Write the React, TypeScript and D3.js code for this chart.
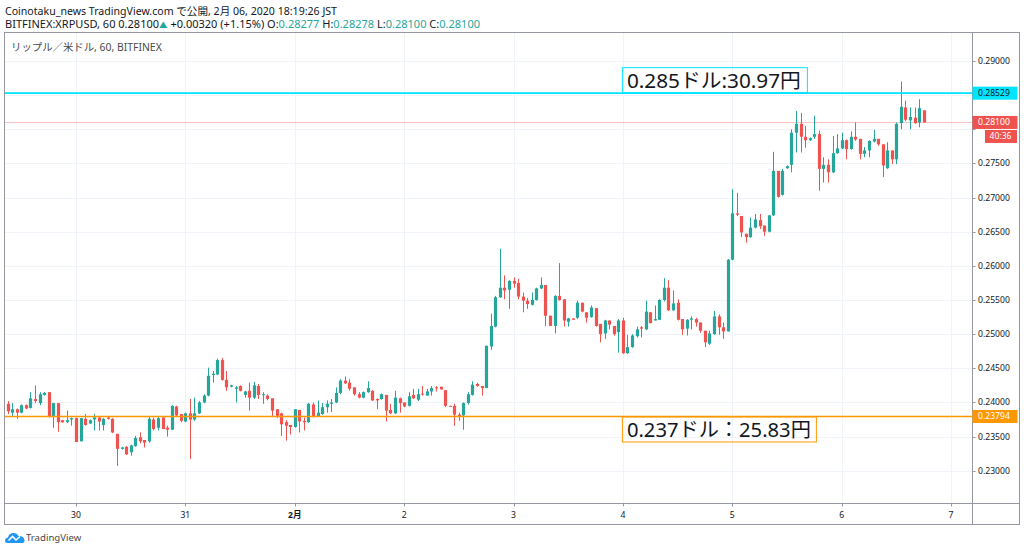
import React from 'react';
import * as d3 from 'd3';

// hourly candles, first one at 2020-01-29 09:00 JST (times kept as UTC numbers)
const firstCandle = Date.UTC(2020, 0, 29, 9);

const opens = [
  0.2398, 0.2385, 0.2390, 0.2385, 0.2396, 0.2392, 0.2405, 0.2399, 0.2411, 0.2415,
  0.2380, 0.2399, 0.2374, 0.2371, 0.2375, 0.2377, 0.2343, 0.2376, 0.2369, 0.2375,
  0.2378, 0.2367, 0.2378, 0.2376, 0.2354, 0.2332, 0.2335, 0.2327, 0.2336, 0.2349,
  0.2345, 0.2343, 0.2375, 0.2363, 0.2378, 0.2363, 0.2360, 0.2394, 0.2383, 0.2372,
  0.2384, 0.2375, 0.2384, 0.2400, 0.2410, 0.2440, 0.2441, 0.2462, 0.2433, 0.2423,
  0.2420, 0.2424, 0.2411, 0.2417, 0.2407, 0.2424, 0.2411, 0.2410, 0.2406, 0.2390,
  0.2384, 0.2371, 0.2367, 0.2364, 0.2389, 0.2373, 0.2371, 0.2397, 0.2380, 0.2383,
  0.2393, 0.2398, 0.2400, 0.2414, 0.2432, 0.2429, 0.2422, 0.2412, 0.2407, 0.2415,
  0.2417, 0.2405, 0.2405, 0.2411, 0.2389, 0.2384, 0.2406, 0.2400, 0.2395, 0.2411,
  0.2404, 0.2413, 0.2410, 0.2416, 0.2422, 0.2423, 0.2418, 0.2395, 0.2395, 0.2382,
  0.2381, 0.2399, 0.2411, 0.2427, 0.2424, 0.2421, 0.2482, 0.2511, 0.2554, 0.2568,
  0.2565, 0.2578, 0.2575, 0.2555, 0.2549, 0.2543, 0.2550, 0.2567, 0.2572, 0.2527,
  0.2512, 0.2556, 0.2551, 0.2518, 0.2523, 0.2524, 0.2546, 0.2532, 0.2525, 0.2538,
  0.2515, 0.2501, 0.2520, 0.2512, 0.2503, 0.2520, 0.2472, 0.2481, 0.2497, 0.2510,
  0.2507, 0.2532, 0.2520, 0.2521, 0.2550, 0.2568, 0.2535, 0.2546, 0.2522, 0.2508,
  0.2521, 0.2522, 0.2517, 0.2505, 0.2486, 0.2500, 0.2526, 0.2510, 0.2504, 0.2609,
  0.2677, 0.2673, 0.2647, 0.2642, 0.2656, 0.2667, 0.2659, 0.2650, 0.2674, 0.2739,
  0.2704, 0.2743, 0.2748, 0.2795, 0.2808, 0.2789, 0.2784, 0.2789, 0.2793, 0.2742,
  0.2748, 0.2737, 0.2765, 0.2772, 0.2784, 0.2771, 0.2789, 0.2786, 0.2764, 0.2769,
  0.2782, 0.2786, 0.2778, 0.2743, 0.2769, 0.2756, 0.2809, 0.2832, 0.2813, 0.2817,
  0.2810, 0.28277,
];

const highs = [
  0.2402, 0.2399, 0.2391, 0.2397, 0.2397, 0.2415, 0.2425, 0.2415, 0.2415, 0.2415,
  0.2399, 0.2399, 0.2374, 0.2388, 0.2378, 0.2378, 0.2377, 0.2383, 0.2375, 0.2383,
  0.2378, 0.2377, 0.2380, 0.2377, 0.2354, 0.2335, 0.2336, 0.2338, 0.2351, 0.2356,
  0.2345, 0.2380, 0.2378, 0.2380, 0.2378, 0.2366, 0.2396, 0.2395, 0.2383, 0.2385,
  0.2405, 0.2407, 0.2402, 0.2412, 0.2451, 0.2446, 0.2464, 0.2465, 0.2446, 0.2426,
  0.2424, 0.2425, 0.2417, 0.2429, 0.2430, 0.2427, 0.2415, 0.2412, 0.2406, 0.2390,
  0.2385, 0.2374, 0.2367, 0.2390, 0.2389, 0.2378, 0.2399, 0.2400, 0.2403, 0.2399,
  0.2403, 0.2405, 0.2422, 0.2434, 0.2438, 0.2434, 0.2422, 0.2415, 0.2416, 0.2431,
  0.2418, 0.2406, 0.2413, 0.2411, 0.2398, 0.2417, 0.2407, 0.2400, 0.2415, 0.2420,
  0.2420, 0.2424, 0.2420, 0.2424, 0.2424, 0.2423, 0.2418, 0.2395, 0.2398, 0.2385,
  0.2400, 0.2415, 0.2431, 0.2429, 0.2424, 0.2483, 0.2530, 0.2556, 0.2625, 0.2586,
  0.2579, 0.2583, 0.2581, 0.2561, 0.2553, 0.2561, 0.2568, 0.2583, 0.2572, 0.2527,
  0.2557, 0.2604, 0.2551, 0.2524, 0.2523, 0.2549, 0.2546, 0.2532, 0.2542, 0.2538,
  0.2515, 0.2521, 0.2520, 0.2512, 0.2522, 0.2524, 0.2499, 0.2500, 0.2511, 0.2512,
  0.2549, 0.2532, 0.2542, 0.2551, 0.2582, 0.2579, 0.2564, 0.2551, 0.2522, 0.2522,
  0.2526, 0.2524, 0.2517, 0.2505, 0.2505, 0.2534, 0.2529, 0.2517, 0.2610, 0.2712,
  0.2707, 0.2673, 0.2647, 0.2671, 0.2676, 0.2676, 0.2659, 0.2674, 0.2767, 0.2739,
  0.2742, 0.2747, 0.2800, 0.2827, 0.2824, 0.2805, 0.2788, 0.2820, 0.2798, 0.2759,
  0.2756, 0.2790, 0.2793, 0.2795, 0.2785, 0.2797, 0.2810, 0.2786, 0.2774, 0.2784,
  0.2799, 0.2786, 0.2778, 0.2781, 0.2769, 0.2810, 0.2870, 0.2842, 0.2832, 0.2832,
  0.2844, 0.28278,
];

const lows = [
  0.2383, 0.2380, 0.2376, 0.2384, 0.2390, 0.2391, 0.2399, 0.2396, 0.2410, 0.2378,
  0.2363, 0.2357, 0.2370, 0.2370, 0.2366, 0.2342, 0.2343, 0.2366, 0.2369, 0.2359,
  0.2359, 0.2359, 0.2375, 0.2355, 0.2307, 0.2331, 0.2323, 0.2322, 0.2335, 0.2340,
  0.2334, 0.2341, 0.2359, 0.2359, 0.2361, 0.2350, 0.2360, 0.2379, 0.2371, 0.2371,
  0.2317, 0.2373, 0.2383, 0.2399, 0.2409, 0.2429, 0.2440, 0.2432, 0.2417, 0.2422,
  0.2400, 0.2416, 0.2407, 0.2388, 0.2405, 0.2405, 0.2398, 0.2403, 0.2380, 0.2377,
  0.2351, 0.2344, 0.2353, 0.2363, 0.2356, 0.2359, 0.2370, 0.2378, 0.2380, 0.2382,
  0.2385, 0.2386, 0.2399, 0.2412, 0.2427, 0.2417, 0.2410, 0.2406, 0.2406, 0.2414,
  0.2402, 0.2390, 0.2404, 0.2372, 0.2383, 0.2383, 0.2385, 0.2393, 0.2394, 0.2405,
  0.2402, 0.2410, 0.2410, 0.2410, 0.2416, 0.2419, 0.2393, 0.2394, 0.2366, 0.2373,
  0.2360, 0.2397, 0.2410, 0.2423, 0.2410, 0.2421, 0.2477, 0.2510, 0.2553, 0.2551,
  0.2537, 0.2568, 0.2551, 0.2532, 0.2537, 0.2542, 0.2549, 0.2566, 0.2512, 0.2512,
  0.2501, 0.2549, 0.2511, 0.2511, 0.2521, 0.2522, 0.2532, 0.2517, 0.2524, 0.2511,
  0.2488, 0.2493, 0.2507, 0.2498, 0.2473, 0.2471, 0.2471, 0.2480, 0.2495, 0.2495,
  0.2506, 0.2516, 0.2520, 0.2521, 0.2548, 0.2534, 0.2534, 0.2520, 0.2499, 0.2498,
  0.2507, 0.2511, 0.2502, 0.2481, 0.2484, 0.2499, 0.2499, 0.2493, 0.2504, 0.2608,
  0.2673, 0.2642, 0.2634, 0.2641, 0.2655, 0.2654, 0.2644, 0.2649, 0.2673, 0.2700,
  0.2703, 0.2742, 0.2737, 0.2766, 0.2766, 0.2773, 0.2783, 0.2786, 0.2710, 0.2722,
  0.2722, 0.2736, 0.2764, 0.2771, 0.2756, 0.2770, 0.2783, 0.2756, 0.2759, 0.2759,
  0.2781, 0.2776, 0.2730, 0.2742, 0.2749, 0.2749, 0.2800, 0.2812, 0.2800, 0.2808,
  0.2803, 0.2810,
];

const closes = [
  0.2387, 0.2390, 0.2385, 0.2396, 0.2391, 0.2406, 0.2402, 0.2412, 0.2414, 0.2380,
  0.2399, 0.2371, 0.2371, 0.2374, 0.2377, 0.2342, 0.2377, 0.2367, 0.2374, 0.2378,
  0.2372, 0.2376, 0.2376, 0.2356, 0.2332, 0.2334, 0.2324, 0.2337, 0.2348, 0.2343,
  0.2341, 0.2376, 0.2361, 0.2377, 0.2361, 0.2360, 0.2395, 0.2381, 0.2373, 0.2384,
  0.2375, 0.2384, 0.2400, 0.2410, 0.2439, 0.2442, 0.2462, 0.2433, 0.2422, 0.2425,
  0.2422, 0.2417, 0.2416, 0.2407, 0.2425, 0.2411, 0.2412, 0.2405, 0.2388, 0.2380,
  0.2368, 0.2366, 0.2364, 0.2390, 0.2372, 0.2371, 0.2398, 0.2380, 0.2385, 0.2393,
  0.2398, 0.2400, 0.2414, 0.2432, 0.2428, 0.2420, 0.2412, 0.2407, 0.2415, 0.2421,
  0.2403, 0.2403, 0.2412, 0.2388, 0.2384, 0.2407, 0.2399, 0.2394, 0.2409, 0.2406,
  0.2412, 0.2412, 0.2416, 0.2421, 0.2421, 0.2419, 0.2395, 0.2394, 0.2382, 0.2380,
  0.2399, 0.2412, 0.2426, 0.2424, 0.2421, 0.2483, 0.2512, 0.2554, 0.2568, 0.2564,
  0.2578, 0.2574, 0.2555, 0.2549, 0.2544, 0.2550, 0.2567, 0.2572, 0.2527, 0.2512,
  0.2556, 0.2550, 0.2520, 0.2523, 0.2521, 0.2546, 0.2533, 0.2524, 0.2539, 0.2512,
  0.2500, 0.2520, 0.2514, 0.2500, 0.2520, 0.2472, 0.2481, 0.2498, 0.2507, 0.2508,
  0.2533, 0.2516, 0.2522, 0.2550, 0.2568, 0.2535, 0.2545, 0.2521, 0.2507, 0.2521,
  0.2523, 0.2517, 0.2505, 0.2488, 0.2501, 0.2526, 0.2510, 0.2504, 0.2609, 0.2677,
  0.2675, 0.2649, 0.2642, 0.2656, 0.2668, 0.2658, 0.2650, 0.2674, 0.2739, 0.2701,
  0.2739, 0.2746, 0.2795, 0.2808, 0.2789, 0.2784, 0.2787, 0.2793, 0.2742, 0.2748,
  0.2737, 0.2765, 0.2772, 0.2784, 0.2771, 0.2789, 0.2785, 0.2764, 0.2769, 0.2783,
  0.2786, 0.2778, 0.2747, 0.2769, 0.2756, 0.2808, 0.2833, 0.2814, 0.2818, 0.2809,
  0.2831, 0.2810,
];

const dayTicks = [
  Date.UTC(2020, 0, 30), Date.UTC(2020, 0, 31), Date.UTC(2020, 1, 1), Date.UTC(2020, 1, 2),
  Date.UTC(2020, 1, 3), Date.UTC(2020, 1, 4), Date.UTC(2020, 1, 5), Date.UTC(2020, 1, 6),
  Date.UTC(2020, 1, 7),
];
const dayLabels = ['30', '31', '2月', '2', '3', '4', '5', '6', '7'];

const priceTicks = [
  0.23, 0.235, 0.24, 0.245, 0.25, 0.255, 0.26, 0.265, 0.27, 0.275, 0.28, 0.285, 0.29,
];

const lastPrice = 0.281;
const countdown = '40:36';
const upperLevel = 0.28529;
const lowerLevel = 0.23794;
const upperNote = '0.285ドル:30.97円';
const lowerNote = '0.237ドル：25.83円';
const noteTime = Date.UTC(2020, 1, 4);

const UP = '#26a69a';
const DOWN = '#ef5350';
const CYAN = '#00e5ff';
const ORANGE = '#ff9800';
const FONT = '"Noto Sans", "Noto Sans CJK JP", sans-serif';

const App: React.FC = () => {
  const left = 4.5;
  const top = 32.5;
  const axisX = 972.5;
  const axisY = 503.5;
  const right = 1019.5;
  const bottom = 524.5;

  const x = d3.scaleUtc().domain([dayTicks[0], dayTicks[8]]).range([76, 951]);
  const y = d3.scaleLinear().domain([0.23, 0.29]).range([470.7, 61]);
  const fmt = d3.format('.5f');
  const hour = 3600 * 1000;
  const bodyW = 3.2;

  const candles = closes.map((c, i) => ({
    t: firstCandle + i * hour,
    o: opens[i],
    h: highs[i],
    l: lows[i],
    c,
  }));

  // the tick label hidden under the last price badge is not drawn
  const hidden = (p: number) => Math.abs(y(p) - y(lastPrice)) < 20;

  return (
    <div style={{ position: 'fixed', left: 0, top: 0 }}>
      <svg width={1024} height={552} style={{ display: 'block', background: '#fff' }} fontFamily={FONT}>
        <defs>
          <clipPath id="plot">
            <rect x={left} y={top} width={axisX - left} height={axisY - top} />
          </clipPath>
        </defs>

        {/* header */}
        <text x={5} y={15} fontSize={10.4} fill="#131722" textLength={332} lengthAdjust="spacingAndGlyphs">
          Coinotaku_news TradingView.com で公開, 2月 06, 2020 18:19:26 JST
        </text>
        <text x={5} y={27.5} fontSize={10.4} fill="#131722" textLength={475} lengthAdjust="spacingAndGlyphs">
          <tspan>BITFINEX:XRPUSD, 60 0.28100</tspan>
          <tspan fill={UP} fontSize={8}>▲</tspan>
          <tspan> +0.00320 (+1.15%) O:</tspan>
          <tspan fill={UP}>0.28277</tspan>
          <tspan> H:</tspan>
          <tspan fill={UP}>0.28278</tspan>
          <tspan> L:</tspan>
          <tspan fill={UP}>0.28100</tspan>
          <tspan> C:</tspan>
          <tspan fill={UP}>0.28100</tspan>
        </text>

        {/* grid */}
        <g stroke="#f0f3fa" strokeWidth={1}>
          {dayTicks.map((d, i) => (
            <line key={'v' + i} x1={Math.round(x(d)) + 0.5} x2={Math.round(x(d)) + 0.5} y1={top} y2={axisY} />
          ))}
          {priceTicks.map((p, i) => (
            <line key={'h' + i} x1={left} x2={axisX} y1={Math.round(y(p)) + 0.5} y2={Math.round(y(p)) + 0.5} />
          ))}
        </g>

        <text x={11} y={51} fontSize={10.4} fill="#4a4a4a">
          リップル／米ドル, 60, BITFINEX
        </text>

        <g clipPath="url(#plot)">
          {/* last price line */}
          <line x1={left} x2={axisX} y1={y(lastPrice)} y2={y(lastPrice)} stroke={DOWN} strokeOpacity={0.35} strokeWidth={1} />

          {candles.map((d, i) => {
            const cx = Math.round(x(d.t)) + 0.5;
            const color = d.c >= d.o ? UP : DOWN;
            const y0 = y(Math.max(d.o, d.c));
            const y1 = y(Math.min(d.o, d.c));
            return (
              <g key={i}>
                <line x1={cx} x2={cx} y1={y(d.h)} y2={y(d.l)} stroke={color} strokeWidth={1} />
                <rect x={cx - bodyW / 2} y={y0} width={bodyW} height={Math.max(1, y1 - y0)} fill={color} />
              </g>
            );
          })}

          {/* horizontal levels */}
          <line x1={left} x2={axisX} y1={y(upperLevel)} y2={y(upperLevel)} stroke={CYAN} strokeWidth={1.6} />
          <line x1={left} x2={axisX} y1={y(lowerLevel)} y2={y(lowerLevel)} stroke={ORANGE} strokeWidth={1.6} />

          {/* notes */}
          <rect x={x(noteTime) - 0.5} y={y(upperLevel) - 25.5} width={185} height={25} fill="none" stroke={CYAN} strokeWidth={1} />
          <text x={x(noteTime) + 4} y={y(upperLevel) - 5.5} fontSize={20} fill="#131722" textLength={174} lengthAdjust="spacingAndGlyphs">{upperNote}</text>
          <rect x={x(noteTime) - 0.5} y={y(lowerLevel) + 0.5} width={194} height={25} fill="none" stroke={ORANGE} strokeWidth={1} />
          <text x={x(noteTime) + 4} y={y(lowerLevel) + 20.5} fontSize={20} fill="#131722" textLength={184} lengthAdjust="spacingAndGlyphs">{lowerNote}</text>
        </g>

        {/* frame */}
        <rect x={left} y={top} width={right - left} height={bottom - top} fill="none" stroke="#9598a1" strokeWidth={1} />
        <line x1={axisX} x2={axisX} y1={top} y2={bottom} stroke="#9598a1" />
        <line x1={left} x2={right} y1={axisY} y2={axisY} stroke="#9598a1" />

        {/* price axis */}
        <g fontSize={8.6} fill="#131722">
          {priceTicks.map((p, i) => (
            <g key={i}>
              <line x1={axisX} x2={axisX + 3} y1={Math.round(y(p)) + 0.5} y2={Math.round(y(p)) + 0.5} stroke="#9598a1" />
              {!hidden(p) && <text x={978} y={y(p) + 3}>{fmt(p)}</text>}
            </g>
          ))}
        </g>

        {/* axis labels for levels */}
        <rect x={axisX} y={y(upperLevel) - 6.5} width={45} height={13} fill={CYAN} />
        <text x={978} y={y(upperLevel) + 3} fontSize={8.6} fill="#131722">{fmt(upperLevel)}</text>
        <rect x={axisX} y={y(lowerLevel) - 6.5} width={45} height={13} fill={ORANGE} />
        <text x={978} y={y(lowerLevel) + 3} fontSize={8.6} fill="#fff">{fmt(lowerLevel)}</text>
        <rect x={axisX} y={y(lastPrice) - 6.5} width={45} height={13} fill={DOWN} />
        <text x={978} y={y(lastPrice) + 3} fontSize={8.6} fill="#fff">{fmt(lastPrice)}</text>
        <rect x={985} y={y(lastPrice) + 7.5} width={32} height={13} fill={DOWN} />
        <text x={989.5} y={y(lastPrice) + 17} fontSize={8.6} fill="#fff">{countdown}</text>

        {/* time axis */}
        <g fontSize={8.6} fill="#131722" textAnchor="middle">
          {dayTicks.map((d, i) => (
            <g key={i}>
              <line x1={Math.round(x(d)) + 0.5} x2={Math.round(x(d)) + 0.5} y1={axisY} y2={axisY + 3} stroke="#9598a1" />
              <text x={x(d)} y={518} fontWeight={dayLabels[i] === '2月' ? 'bold' : 'normal'}>{dayLabels[i]}</text>
            </g>
          ))}
        </g>

        {/* footer logo */}
        <g transform="translate(5,531)">
          <path d="M2 12 Q0 12 0 9.5 Q0 7 3 6.5 Q4 2 8.5 2 Q12 2 13.5 5 Q18.5 4.5 19.5 9 Q20 12 17 12 Z" fill="#2196f3" />
          <path d="M3.5 9.5 L7.5 5.5 L11 9 L15 5.5" fill="none" stroke="#fff" strokeWidth={1.6} />
        </g>
        <text x={26} y={541} fontSize={9.6} fill="#4a4a4a">TradingView</text>
      </svg>
    </div>
  );
};

export default App;
